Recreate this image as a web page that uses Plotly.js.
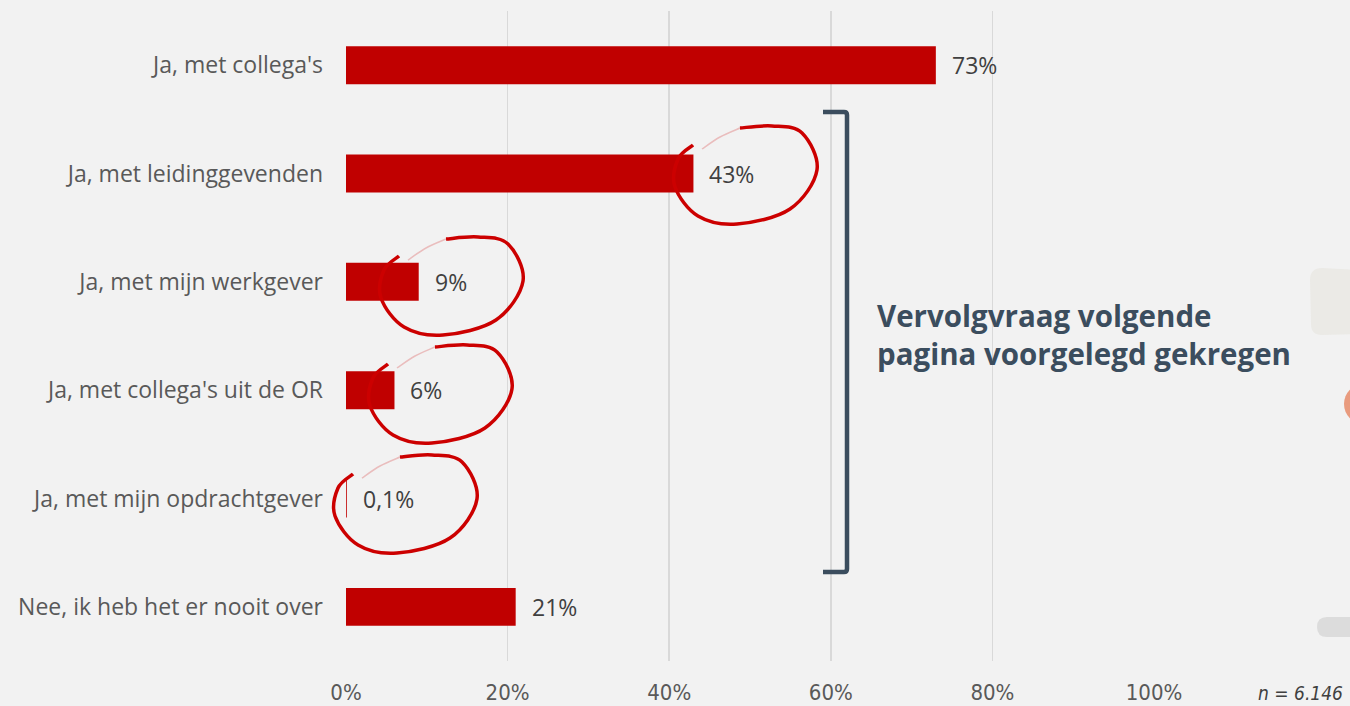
<!DOCTYPE html>
<html><head><meta charset="utf-8">
<script src="https://cdn.plot.ly/plotly-3.0.1.min.js"></script>
<style>html,body{margin:0;padding:0;background:#f2f2f2;}#chart{width:1350px;height:706px;}</style>
</head><body><div id="chart"></div>
<script>
// ---- data ----
const categories = ["Ja, met collega's", "Ja, met leidinggevenden", "Ja, met mijn werkgever", "Ja, met collega's uit de OR", "Ja, met mijn opdrachtgever", "Nee, ik heb het er nooit over"];
const values = [73, 43, 9, 6, 0.1, 21];
const valueLabels = ["73%", "43%", "9%", "6%", "0,1%", "21%"];
const tickValues = [0, 20, 40, 60, 80, 100];
const tickLabels = ["0%", "20%", "40%", "60%", "80%", "100%"];
const noteText = "Vervolgvraag volgende<br>pagina voorgelegd gekregen";
const sampleText = "n = 6.146";

// ---- layout geometry (pixels) ----
const W = 1350, H = 706;
const M = {l: 346, r: 196, t: 11, b: 45};
const PW = W - M.l - M.r, PH = H - M.t - M.b;
const px = x => (x - M.l) / PW;          // pixel -> paper x
const py = y => (H - M.b - y) / PH;      // pixel -> paper y

// hand drawn loop template (relative to box top-left, in px)
const loopPts = [[21,20],[6,34],[3,62],[26,91],[65,99],[118,84],[145,45],[130,8],[100,1],[68,3]];
const fadePts = [[68,3],[48,12],[30,24]];
function catmull(points){
  let d = "M" + points[0][0].toFixed(4) + "," + points[0][1].toFixed(4);
  for (let i = 0; i < points.length - 1; i++){
    const p0 = points[Math.max(i-1,0)], p1 = points[i], p2 = points[i+1], p3 = points[Math.min(i+2, points.length-1)];
    const c1 = [p1[0] + (p2[0]-p0[0])/6, p1[1] + (p2[1]-p0[1])/6];
    const c2 = [p2[0] - (p3[0]-p1[0])/6, p2[1] - (p3[1]-p1[1])/6];
    d += " C" + c1.map(v=>v.toFixed(4)).join(",") + " " + c2.map(v=>v.toFixed(4)).join(",") + " " + p2.map(v=>v.toFixed(4)).join(",");
  }
  return d;
}
function loopAt(ox, oy, pts){
  return catmull(pts.map(p => [px(ox + p[0]), py(oy + p[1])]));
}
const loopOrigins = [[672,125],[378,236],[367,344],[332,454]];

const shapes = [];
loopOrigins.forEach(o => {
  shapes.push({type:'path', xref:'paper', yref:'paper', path: loopAt(o[0], o[1], loopPts), line:{color:'#cc0000', width:3.5}, layer:'above'});
  shapes.push({type:'path', xref:'paper', yref:'paper', path: loopAt(o[0], o[1], fadePts), line:{color:'rgba(204,0,0,0.22)', width:1.5}, layer:'above'});
});
// bracket
shapes.push({type:'path', xref:'paper', yref:'paper',
  path: `M${px(823)},${py(112)} L${px(844)},${py(112)} Q${px(847)},${py(112)} ${px(847)},${py(115)} L${px(847)},${py(569)} Q${px(847)},${py(572)} ${px(844)},${py(572)} L${px(823)},${py(572)}`,
  line:{color:'#3b4d5e', width:4.5}});
// right-edge decorations
shapes.push({type:'path', xref:'paper', yref:'paper',
  path: `M${px(1322)},${py(268)} L${px(1360)},${py(270)} L${px(1360)},${py(334)} L${px(1322)},${py(335)} Q${px(1311)},${py(335)} ${px(1311)},${py(324)} L${px(1310)},${py(280)} Q${px(1310)},${py(268)} ${px(1322)},${py(268)} Z`,
  fillcolor:'#ebeae6', line:{width:0}, layer:'below'});
shapes.push({type:'circle', xref:'paper', yref:'paper', x0:px(1344), x1:px(1384), y0:py(384), y1:py(424), fillcolor:'#e99b7e', line:{width:0}});
shapes.push({type:'path', xref:'paper', yref:'paper',
  path: `M${px(1327)},${py(617)} L${px(1360)},${py(617)} L${px(1360)},${py(637)} L${px(1327)},${py(637)} Q${px(1317)},${py(637)} ${px(1317)},${py(627)} Q${px(1317)},${py(617)} ${px(1327)},${py(617)} Z`,
  fillcolor:'#dcdcdc', line:{width:0}});

const annotations = categories.map((c, i) => ({
  x: values[i], y: c, xref:'x', yref:'y', text: valueLabels[i], showarrow:false,
  xanchor:'left', yanchor:'middle', xshift: 14,
  font:{family:'"Open Sans", sans-serif', size:23, color:'#404040'}
}));
annotations.push({x: px(875), y: py(334), xref:'paper', yref:'paper', text: noteText, showarrow:false,
  xanchor:'left', yanchor:'middle', align:'left',
  font:{family:'"Open Sans", sans-serif', size:29.5, color:'#3b4d5e', weight:700}});
annotations.push({x: px(1345), y: py(693), xref:'paper', yref:'paper', text: '<i>' + sampleText + '</i>', showarrow:false,
  xanchor:'right', yanchor:'middle',
  font:{family:'"DejaVu Sans Condensed", sans-serif', size:19, color:'#404040'}});

const trace = {
  type:'bar', orientation:'h', x: values, y: categories,
  marker:{color:'#c00000'}, width:0.35, hoverinfo:'skip'
};

const layout = {
  width: W, height: H,
  margin: M,
  paper_bgcolor:'#f2f2f2', plot_bgcolor:'#f2f2f2',
  showlegend:false,
  xaxis:{range:[0,100], tickvals: tickValues, ticktext: tickLabels, showgrid:true, gridcolor:'#d9d9d9', gridwidth:1.5,
    zeroline:false, showline:false, ticks:'', ticklabelstandoff: 16,
    tickfont:{family:'"DejaVu Sans Condensed", sans-serif', size:22, color:'#595959'}},
  yaxis:{type:'category', autorange:'reversed', showgrid:false, zeroline:false, showline:false, ticks:'',
    ticklabelstandoff: 22,
    tickfont:{family:'"Open Sans", sans-serif', size:23, color:'#595959'}},
  shapes: shapes,
  annotations: annotations
};

Plotly.newPlot('chart', [trace], layout, {displayModeBar:false, staticPlot:true});
</script></body></html>
